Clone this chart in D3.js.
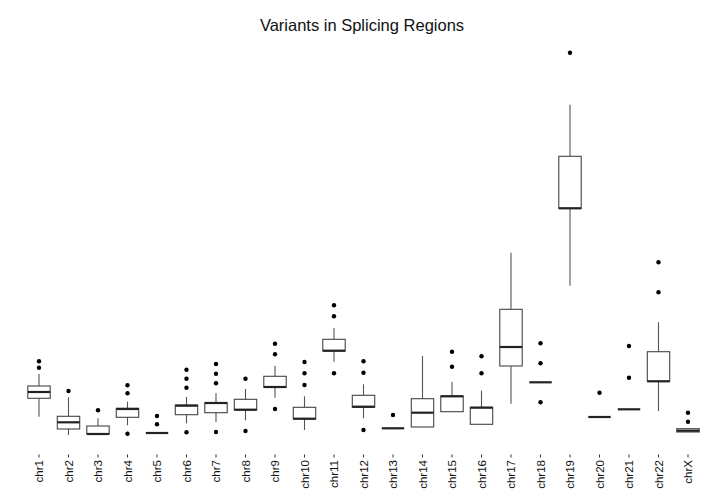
<!DOCTYPE html>
<html lang="en">
<head>
<meta charset="UTF-8">
<title>Variants in Splicing Regions</title>
<script src="https://cdn.jsdelivr.net/npm/d3@7"></script>
<style>
  body { margin: 0; background: #fff; }
  text { font-family: "Liberation Sans", Arial, Helvetica, sans-serif; }
</style>
</head>
<body>
<div id="chart"></div>
<script>
// chromosome categories
var chroms = ["chr1","chr2","chr3","chr4","chr5","chr6","chr7","chr8","chr9","chr10","chr11","chr12",
              "chr13","chr14","chr15","chr16","chr17","chr18","chr19","chr20","chr21","chr22","chrX"];
// box statistics per chromosome
var whiskerLow  = [18.3, 0, 1, 9.7, 2, 11.7, 13, 14.7, 37.3, 5, 73.3, 16.7, 6.7, 8, 23.3, 10.7, 31.3, 52.7, 149.3, 18, 25.7, 24, 3];
var lowerQ      = [36.7, 6, 1, 17.7, 2, 20.3, 22.3, 25, 47.7, 16, 84, 27.7, 6.7, 8, 23.3, 10.7, 69, 52.7, 226.7, 18, 25.7, 53.7, 3];
var medians     = [43, 12.7, 1, 26, 2, 29.3, 32, 25.3, 48, 16.3, 84.3, 28.3, 6.7, 22.3, 38.7, 27.3, 88, 52.7, 226.7, 18, 25.7, 53.7, 4.3];
var upperQ      = [49, 18.7, 9, 26.7, 2, 30, 32.3, 35.7, 58.7, 27.7, 95.7, 39.7, 6.7, 36.3, 39, 27.7, 125.7, 52.7, 278.7, 18, 25.7, 83.3, 6.3];
var whiskerHigh = [61, 37.7, 16.7, 33.3, 2, 38, 41.7, 46, 69.3, 38.7, 107, 50.7, 6.7, 79, 53, 44.3, 182.3, 52.7, 330.3, 18, 25.7, 112.7, 6.3];
var outliers = [
  [67.3, 73.7], [44], [24.7], [49.7, 41.7, 1.3], [19, 10.7], [65.3, 56.3, 47.3, 2.7],
  [71, 61.3, 51.7, 3], [56.3, 4], [91.3, 80.7, 26], [73, 61.7, 50], [129.7, 118.7, 61.7],
  [73.7, 62.3, 5], [20], [], [83.3, 68.3], [78.7, 61.7], [], [91.7, 71.7, 32.7],
  [382.3], [42.3], [89, 57.3], [142.7, 172.7], [22.3, 13.3]
];

var width = 720, height = 504;
var svg = d3.select("#chart").append("svg")
    .attr("width", width)
    .attr("height", height);

var x = d3.scalePoint().domain(chroms).range([39, 688]);
var y = d3.scaleLinear().domain([0, 382.3]).range([435, 52.7]);
var boxW = x.step() * 0.76;

var data = chroms.map(function (c, i) {
  return { name: c, lo: whiskerLow[i], q1: lowerQ[i], med: medians[i], q3: upperQ[i], hi: whiskerHigh[i], out: outliers[i] };
});

// title
svg.append("text")
    .attr("x", 362)
    .attr("y", 31)
    .attr("text-anchor", "middle")
    .style("font-size", "16.5px")
    .attr("fill", "#111")
    .text("Variants in Splicing Regions");

var g = svg.selectAll("g.box")
    .data(data)
    .enter()
    .append("g")
    .attr("class", "box")
    .attr("transform", function (d) { return "translate(" + x(d.name) + ",0)"; });

// whiskers
g.append("line")
    .attr("y1", function (d) { return y(d.lo); })
    .attr("y2", function (d) { return y(d.q1); })
    .attr("stroke", "#555").attr("stroke-width", 1.1);
g.append("line")
    .attr("y1", function (d) { return y(d.q3); })
    .attr("y2", function (d) { return y(d.hi); })
    .attr("stroke", "#555").attr("stroke-width", 1.1);

// boxes
g.append("rect")
    .attr("x", -boxW / 2)
    .attr("width", boxW)
    .attr("y", function (d) { return y(d.q3); })
    .attr("height", function (d) { return y(d.q1) - y(d.q3); })
    .attr("fill", "#fff")
    .attr("stroke", "#444")
    .attr("stroke-width", 1.1);

// medians
g.append("line")
    .attr("x1", -boxW / 2)
    .attr("x2", boxW / 2)
    .attr("y1", function (d) { return y(d.med); })
    .attr("y2", function (d) { return y(d.med); })
    .attr("stroke", "#222")
    .attr("stroke-width", 2.2);

// outliers
g.selectAll("circle")
    .data(function (d) { return d.out; })
    .enter()
    .append("circle")
    .attr("cy", function (v) { return y(v); })
    .attr("r", 2.2)
    .attr("fill", "#000");

// x axis ticks and rotated labels
var ax = svg.selectAll("g.lab")
    .data(chroms)
    .enter()
    .append("g")
    .attr("class", "lab")
    .attr("transform", function (d) { return "translate(" + x(d) + ",0)"; });
ax.append("line")
    .attr("y1", 454.5).attr("y2", 457.5)
    .attr("stroke", "#333");
ax.append("text")
    .attr("transform", "translate(4.3,460) rotate(-90)")
    .attr("text-anchor", "end")
    .style("font-size", "11.5px")
    .attr("fill", "#111")
    .text(function (d) { return d; });
</script>
</body>
</html>
